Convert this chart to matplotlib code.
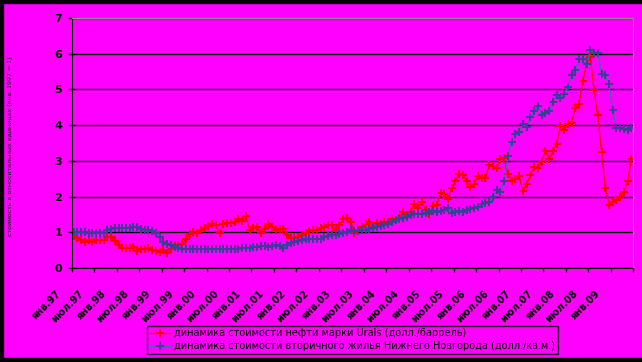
import numpy as np
import matplotlib
matplotlib.use('Agg')
import matplotlib.pyplot as plt
import matplotlib.transforms as mtransforms
from matplotlib.patches import Rectangle

# monthly values, Jan 1997 .. Jun 2009 (relative units)
oil = [0.90, 0.83, 0.77, 0.72, 0.79, 0.72, 0.77, 0.79, 0.79, 0.88, 0.86, 0.76,
       0.65, 0.57, 0.56, 0.57, 0.60, 0.48, 0.54, 0.54, 0.57, 0.51, 0.48, 0.44,
       0.51, 0.42, 0.54, 0.65, 0.65, 0.67, 0.81, 0.94, 1.00, 0.97, 1.06, 1.11,
       1.18, 1.23, 1.19, 0.97, 1.22, 1.27, 1.27, 1.30, 1.37, 1.31, 1.45, 1.06,
       1.11, 1.16, 0.99, 1.08, 1.22, 1.16, 1.05, 1.09, 1.09, 0.91, 0.83, 0.83,
       0.86, 0.93, 0.99, 1.04, 1.07, 1.05, 1.11, 1.16, 1.20, 1.20, 1.07, 1.20,
       1.36, 1.41, 1.30, 0.97, 1.07, 1.16, 1.23, 1.28, 1.14, 1.25, 1.23, 1.28,
       1.30, 1.36, 1.33, 1.39, 1.58, 1.49, 1.58, 1.79, 1.67, 1.85, 1.62, 1.50,
       1.73, 1.76, 2.10, 2.08, 1.94, 2.24, 2.43, 2.64, 2.60, 2.43, 2.27, 2.36,
       2.57, 2.52, 2.53, 2.88, 2.85, 2.81, 3.05, 3.09, 2.64, 2.43, 2.48, 2.57,
       2.16, 2.36, 2.60, 2.84, 2.79, 2.98, 3.28, 3.05, 3.28, 3.47, 3.98, 3.87,
       4.03, 4.06, 4.48, 4.60, 5.23, 5.70, 5.90, 4.99, 4.27, 3.25, 2.25, 1.76,
       1.85, 1.90, 1.98, 2.14, 2.44, 3.04]

housing = [1.02, 1.02, 1.00, 1.00, 0.97, 0.97, 0.97, 0.97, 0.99, 1.05, 1.09, 1.11,
           1.11, 1.12, 1.13, 1.13, 1.14, 1.16, 1.09, 1.06, 1.06, 1.04, 0.97, 0.86,
           0.74, 0.68, 0.63, 0.60, 0.56, 0.54, 0.53, 0.53, 0.53, 0.52, 0.53, 0.54,
           0.53, 0.54, 0.53, 0.53, 0.52, 0.52, 0.53, 0.52, 0.53, 0.57, 0.56, 0.57,
           0.60, 0.60, 0.61, 0.62, 0.60, 0.61, 0.64, 0.62, 0.57, 0.64, 0.71, 0.74,
           0.76, 0.79, 0.80, 0.80, 0.81, 0.81, 0.80, 0.86, 0.90, 0.92, 0.93, 0.94,
           0.97, 1.00, 1.05, 1.04, 1.04, 1.05, 1.07, 1.09, 1.11, 1.14, 1.18, 1.20,
           1.24, 1.29, 1.33, 1.36, 1.41, 1.44, 1.48, 1.51, 1.50, 1.52, 1.54, 1.56,
           1.59, 1.57, 1.60, 1.62, 1.69, 1.55, 1.57, 1.59, 1.58, 1.62, 1.65, 1.68,
           1.71, 1.78, 1.82, 1.85, 1.99, 2.18, 2.13, 2.43, 3.13, 3.53, 3.75, 3.81,
           4.03, 3.95, 4.23, 4.40, 4.53, 4.29, 4.33, 4.39, 4.65, 4.83, 4.76, 4.87,
           5.06, 5.39, 5.53, 5.84, 5.84, 5.70, 6.09, 6.03, 6.03, 5.44, 5.40, 5.14,
           4.43, 3.92, 3.92, 3.90, 3.87, 3.92]

xlabels = ['янв.97', 'июл.97', 'янв.98', 'июл.98', 'янв.99', 'июл.99',
           'янв.00', 'июл.00', 'янв.01', 'июл.01', 'янв.02', 'июл.02',
           'янв.03', 'июл.03', 'янв.04', 'июл.04', 'янв.05', 'июл.05',
           'янв.06', 'июл.06', 'янв.07', 'июл.07', 'янв.08', 'июл.08', 'янв.09']

oil_label = 'динамика стоимости нефти марки Urals (долл./баррель)'
housing_label = 'динамика стоимости вторичного жилья Нижнего Новгорода (долл./кв.м.)'

pink = '#ff00ff'
fig = plt.figure(figsize=(6.42, 3.62), dpi=100, facecolor=pink)
ax = fig.add_axes([0.1117, 0.2597, 0.8748, 0.6906], facecolor=pink)

x = np.arange(len(oil)) + 0.5
ax.plot(x, oil, color='#ff0000', lw=1, marker='P', ms=5.5, mew=0, label=oil_label)
ax.plot(x, housing, color='#3a6aa8', lw=1, marker='P', ms=5.5, mew=0,
        mfc='#3d3d99', label=housing_label)

ax.set_xlim(0, 150)
ax.set_ylim(0, 7)
ax.set_yticks(range(8))
ax.set_yticklabels([str(v) for v in range(8)], fontsize=8, fontweight='bold')
ax.yaxis.grid(True, color='black', lw=1)
ax.set_axisbelow(True)

ax.set_xticks(np.arange(0, 151, 6))
ax.set_xticklabels(xlabels + [''], fontsize=7, fontweight='bold', rotation=45,
                   ha='right', va='center', rotation_mode='anchor')
ax.tick_params(axis='x', length=3, width=1, pad=14.5)
ax.tick_params(axis='y', length=3, width=1, pad=4)
shift = mtransforms.ScaledTranslation(-0.12, 0, fig.dpi_scale_trans)
for lab in ax.get_xticklabels():
    lab.set_transform(lab.get_transform() + shift)

for s in ['top', 'right']:
    ax.spines[s].set_color('#909090')
for s in ['left', 'bottom']:
    ax.spines[s].set_color('black')

fig.text(0.017, 0.597, 'стоимость в относительных единицах (янв. 1997 = 1)',
         rotation=90, fontsize=4.5, ha='center', va='center')

leg = fig.legend(loc='center', bbox_to_anchor=(0.549, 0.061), fontsize=7,
                 frameon=True, fancybox=False, facecolor=pink, edgecolor='black',
                 handlelength=2.2, borderpad=0.3, labelspacing=0.3, handletextpad=0.3)
leg.get_frame().set_linewidth(1)

# black frame strips around the chart area
fig.patches.append(Rectangle((0, 0.992), 1, 0.008, transform=fig.transFigure,
                             color='black', zorder=10))
fig.patches.append(Rectangle((0, 0), 0.005, 1, transform=fig.transFigure,
                             color='black', zorder=10))
fig.patches.append(Rectangle((0, 0), 1, 0.011, transform=fig.transFigure,
                             color='black', zorder=10))

fig.savefig('out.png', dpi=100, facecolor=pink)
